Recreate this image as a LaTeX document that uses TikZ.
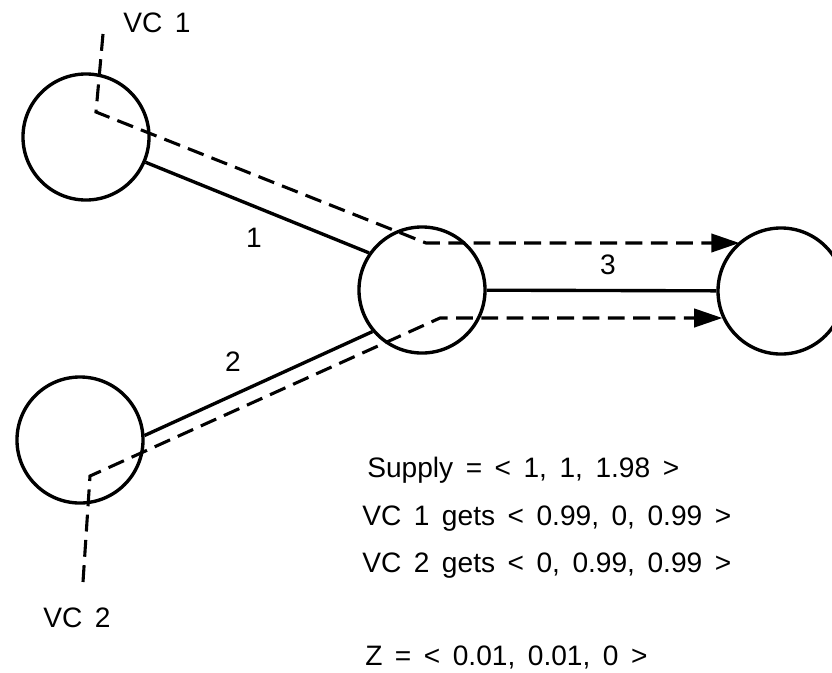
\documentclass[tikz,border=0pt]{standalone}
\usepackage{fontspec}
\setmainfont[WordSpace=1.6]{Liberation Sans}
\usetikzlibrary{arrows.meta, positioning}
\tikzset{
  site/.style={circle, draw, line width=2.4pt, minimum size=3.15cm, inner sep=0pt},
  link/.style={line width=2.4pt},
  vcpath/.style={line width=2.2pt, dash pattern=on 12pt off 6pt},
  vcarrow/.style={vcpath, -{Triangle[length=20pt, width=13pt]}},
  lbl/.style={font=\fontsize{20}{24}\selectfont, inner sep=0pt},
}

\begin{document}
\begin{tikzpicture}[x=0.025cm, y=-0.025cm]
  \clip (0,0) rectangle (832,672);
  % switches
  \node[site] (s1) at (86,137) {};
  \node[site] (s2) at (80,440) {};
  \node[site] (sw) at (422,290) {};
  \node[site] (dst) at (781,291) {};

  % links
  \draw[link] (s1.-23) -- (sw.145);
  \draw[link] (s2.4) -- (sw.220);
  \draw[link] (sw) -- (dst);
  \node[lbl] (l1) at (254,238) {1};
  \node[lbl] (l2) at (233,362) {2};
  \node[lbl] (l3) at (608,265) {3};

  % virtual circuits
  \coordinate (vc1top) at (103,34);
  \coordinate (vc1in) at (96,112);
  \coordinate (bend1) at (426,243);
  \coordinate (vc2bot) at (83,582);
  \coordinate (vc2in) at (90,476);
  \coordinate (bend2) at (440,318);
  \draw[vcarrow] (vc1top) -- (vc1in) -- (bend1) [rounded corners=18pt] -- (bend1 -| dst.130);
  \draw[vcarrow] (vc2bot) -- (vc2in) -- (bend2) [rounded corners=18pt] -- (bend2 -| dst.205);
  \node[lbl, anchor=base west] (vc1) at (123,32) {VC 1};
  \node[lbl, anchor=base west] (vc2) at (43,627) {VC 2};

  % allocation
  \node[lbl, anchor=base west] (supply) at (367,477) {Supply = < 1, 1, 1.98 >};
  \node[lbl, anchor=base west] (gets1) at (362,525) {VC 1 gets < 0.99, 0, 0.99 >};
  \node[lbl, anchor=base west] (gets2) at (362,572) {VC 2 gets < 0, 0.99, 0.99 >};
  \node[lbl, anchor=base west] (zvec) at (365,665) {Z = < 0.01, 0.01, 0 >};
\end{tikzpicture}
\end{document}
